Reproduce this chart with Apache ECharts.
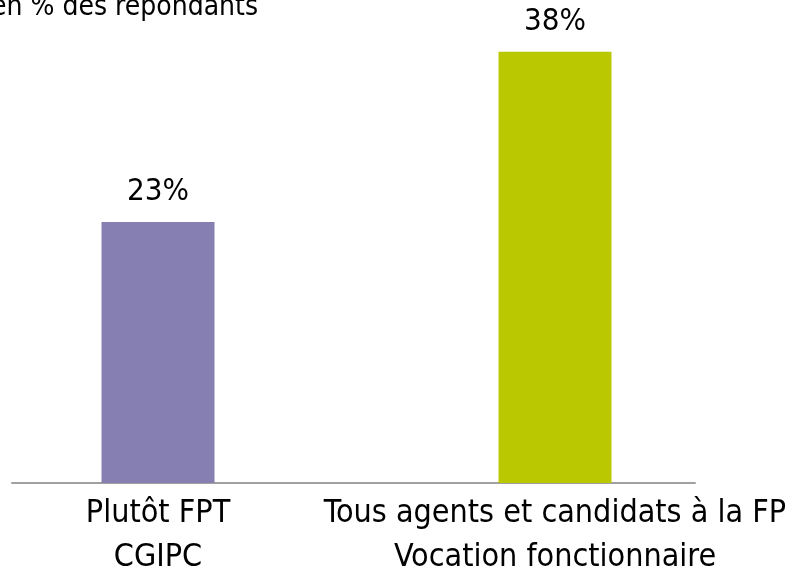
<!DOCTYPE html>
<html>
<head>
<meta charset="utf-8">
<script src="https://cdn.jsdelivr.net/npm/echarts@6/dist/echarts.min.js"></script>
<style>
  html, body { margin: 0; padding: 0; background: #fff; }
  #chart { width: 802px; height: 579px; }
</style>
</head>
<body>
<div id="chart"></div>
<script>
var categories = ['Plutôt FPT\nCGIPC', 'Tous agents et candidats à la FP\nVocation fonctionnaire'];
var values = [23, 38];
var barColors = ['#8680b2', '#b9c800'];

var font = '"DejaVu Sans Condensed", "Open Sans", sans-serif';
var myChart = echarts.init(document.getElementById('chart'));

var barData = values.map(function (v, i) {
  return { value: v, itemStyle: { color: barColors[i] } };
});

myChart.setOption({
  animation: false,
  title: {
    text: 'en % des répondants',
    left: -14,
    top: -11,
    textStyle: { fontFamily: font, fontSize: 28, fontWeight: 'normal', color: '#000' }
  },
  grid: [
    // bars sit on the grid edges (boundaryGap false)
    { left: 158, right: 247, top: 29, bottom: 96, outerBoundsMode: 'none' },
    // axis line only
    { left: 12, right: 107, top: 29, bottom: 96, outerBoundsMode: 'none' }
  ],
  xAxis: [{
    type: 'category',
    gridIndex: 0,
    data: categories,
    boundaryGap: false,
    axisLine: { show: false },
    axisTick: { show: false },
    axisLabel: {
      margin: 9,
      fontFamily: font,
      fontSize: 32,
      lineHeight: 44,
      color: '#000',
      interval: 0
    }
  }, {
    type: 'category',
    gridIndex: 1,
    data: categories,
    axisLine: { show: true, lineStyle: { color: '#a0a0a0', width: 2 } },
    axisTick: { show: false },
    axisLabel: { show: false }
  }],
  yAxis: [{
    type: 'value',
    gridIndex: 0,
    min: 0,
    max: 40,
    show: false,
    splitLine: { show: false }
  }, {
    type: 'value',
    gridIndex: 1,
    min: 0,
    max: 40,
    show: false,
    splitLine: { show: false }
  }],
  series: [{
    type: 'bar',
    xAxisIndex: 0,
    yAxisIndex: 0,
    barWidth: 113,
    clip: false,
    data: barData,
    label: {
      show: true,
      position: 'top',
      distance: 14,
      formatter: '{c}%',
      fontFamily: font,
      fontSize: 31,
      color: '#000'
    }
  }]
});
</script>
</body>
</html>
